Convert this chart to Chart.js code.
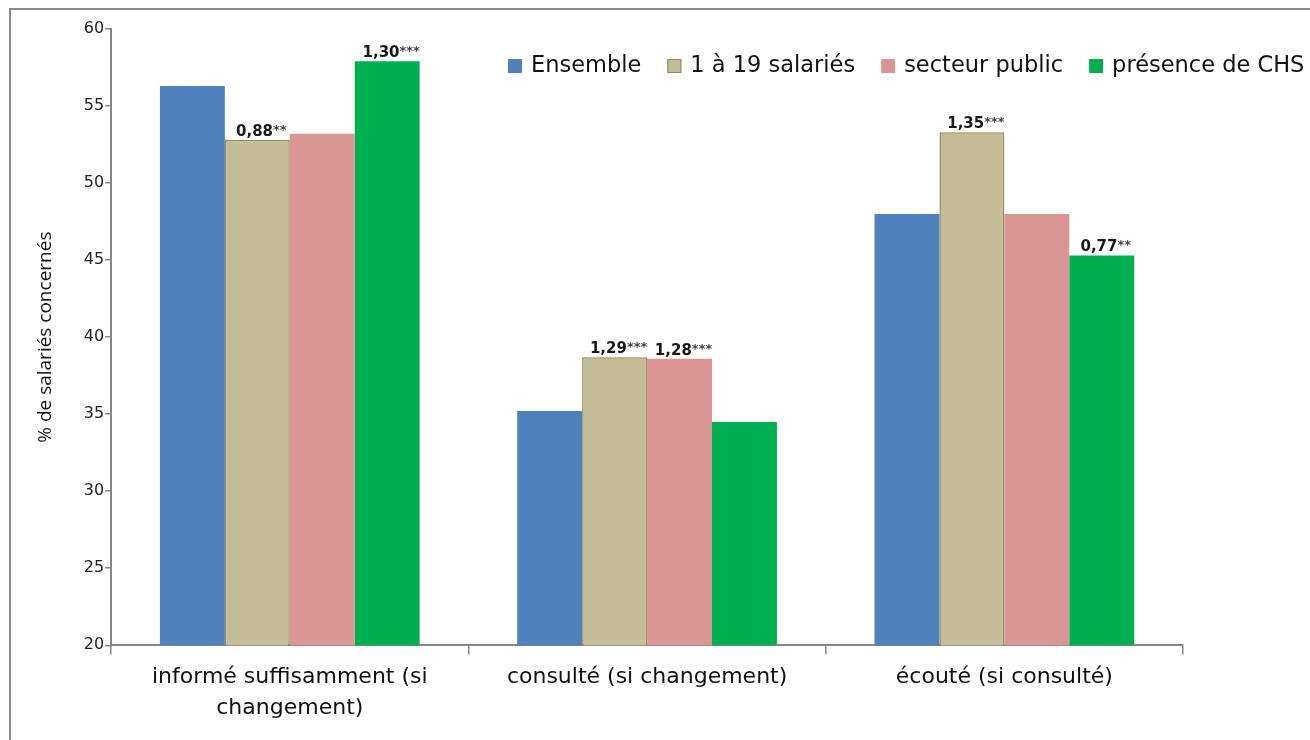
<!DOCTYPE html>
<html>
<head>
<meta charset="utf-8">
<script src="https://cdn.jsdelivr.net/npm/chart.js@4"></script>
<style>
  html, body { margin: 0; padding: 0; background: #fff; overflow: hidden; }
  #wrap { width: 1310px; height: 740px; }
</style>
</head>
<body>
<div id="wrap"><canvas id="barChart" width="1310" height="740"></canvas></div>
<script>
const categories = [
    ['informé suffisamment (si', 'changement)'],
    'consulté (si changement)',
    'écouté (si consulté)'
];
const seriesNames = ['Ensemble', '1 à 19 salariés', 'secteur public', 'présence de CHS'];
const ensemble = [56.3, 35.2, 48.0];
const petites = [52.8, 38.7, 53.3];
const secteurPublic = [53.2, 38.6, 48.0];
const chsct = [57.9, 34.5, 45.3];
// odds ratios shown above some bars (series index, category index, value, stars)
const oddsLabels = [
    [1, 0, '0,88', '**'],
    [3, 0, '1,30', '***'],
    [1, 1, '1,29', '***'],
    [2, 1, '1,28', '***'],
    [1, 2, '1,35', '***'],
    [3, 2, '0,77', '**']
];
const yTicks = [20, 25, 30, 35, 40, 45, 50, 55, 60];

const colors = ['#4f81bd', '#c4bd97', '#d99694', '#00b050'];
const axisGrey = '#868686';

const framePlugin = {
    id: 'frame',
    beforeDraw(chart) {
        const ctx = chart.ctx;
        ctx.save();
        ctx.fillStyle = '#fff';
        ctx.fillRect(0, 0, chart.width, chart.height);
        ctx.strokeStyle = '#8c8c8c';
        ctx.lineWidth = 2;
        ctx.beginPath();
        ctx.moveTo(10, chart.height);
        ctx.lineTo(10, 9);
        ctx.lineTo(chart.width, 9);
        ctx.stroke();
        ctx.restore();
    }
};

const oddsPlugin = {
    id: 'odds',
    afterDatasetsDraw(chart) {
        const ctx = chart.ctx;
        ctx.save();
        ctx.textBaseline = 'alphabetic';
        oddsLabels.forEach(([ds, idx, num, stars]) => {
            const bar = chart.getDatasetMeta(ds).data[idx];
            ctx.font = 'bold 15px "DejaVu Sans"';
            const w1 = ctx.measureText(num).width;
            ctx.font = 'bold 13px "DejaVu Sans"';
            const w2 = ctx.measureText(stars).width;
            const x0 = bar.x - (w1 + w2) / 2 + 4;
            const y = bar.y - 4;
            ctx.fillStyle = '#1a1a1a';
            ctx.font = 'bold 15px "DejaVu Sans"';
            ctx.fillText(num, x0, y);
            ctx.fillStyle = '#444';
            ctx.font = 'bold 13px "DejaVu Sans"';
            ctx.fillText(stars, x0 + w1, y - 2);
        });
        ctx.restore();
    }
};

const legendPlugin = {
    id: 'customLegend',
    afterDraw(chart) {
        const ctx = chart.ctx;
        ctx.save();
        ctx.font = '22.5px "DejaVu Sans"';
        ctx.textBaseline = 'middle';
        let x = 508;
        const y = 66;
        chart.data.datasets.forEach(ds => {
            ctx.fillStyle = ds.backgroundColor;
            ctx.fillRect(x, y - 7, 14, 14);
            if (ds.borderWidth) {
                ctx.strokeStyle = ds.borderColor;
                ctx.lineWidth = 1;
                ctx.strokeRect(x + 0.5, y - 6.5, 13, 13);
            }
            ctx.fillStyle = '#111';
            ctx.fillText(ds.label, x + 23, y);
            x += 23 + ctx.measureText(ds.label).width + 26;
        });
        ctx.restore();
    }
};

function initChart() {
    const ctx = document.getElementById('barChart').getContext('2d');
    const values = [ensemble, petites, secteurPublic, chsct];

    new Chart(ctx, {
        type: 'bar',
        data: {
            labels: categories,
            datasets: values.map((v, i) => ({
                label: seriesNames[i],
                data: v,
                backgroundColor: colors[i],
                borderColor: i === 1 ? '#948a54' : colors[i],
                borderWidth: i === 1 ? 1.5 : 0,
                borderSkipped: 'bottom',
                barPercentage: 1,
                categoryPercentage: 0.727
            }))
        },
        options: {
            responsive: false,
            animation: false,
            layout: {
                padding: { top: 29, right: 127, bottom: 9, left: 30 }
            },
            plugins: {
                legend: { display: false },
                tooltip: { enabled: false }
            },
            scales: {
                y: {
                    min: 20,
                    max: 60,
                    afterBuildTicks: axis => {
                        axis.ticks = yTicks.map(v => ({ value: v }));
                    },
                    border: { color: axisGrey, width: 2 },
                    grid: {
                        drawOnChartArea: false,
                        drawTicks: true,
                        tickLength: 6,
                        color: axisGrey,
                        lineWidth: 1.5
                    },
                    ticks: {
                        color: '#222',
                        padding: 1,
                        font: { family: '"DejaVu Sans"', size: 16 }
                    },
                    title: {
                        display: true,
                        text: '% de salariés concernés',
                        color: '#111',
                        padding: { top: 4, bottom: 26 },
                        font: { family: '"Open Sans"', size: 19 }
                    }
                },
                x: {
                    border: { color: axisGrey, width: 2 },
                    grid: {
                        offset: true,
                        drawOnChartArea: false,
                        drawTicks: true,
                        tickLength: 9,
                        color: axisGrey,
                        lineWidth: 1.5
                    },
                    ticks: {
                        color: '#111',
                        padding: 8,
                        maxRotation: 0,
                        font: { family: '"DejaVu Sans"', size: 22, lineHeight: 1.38 }
                    }
                }
            }
        },
        plugins: [framePlugin, oddsPlugin, legendPlugin]
    });
}

window.addEventListener('load', initChart);
</script>
</body>
</html>
